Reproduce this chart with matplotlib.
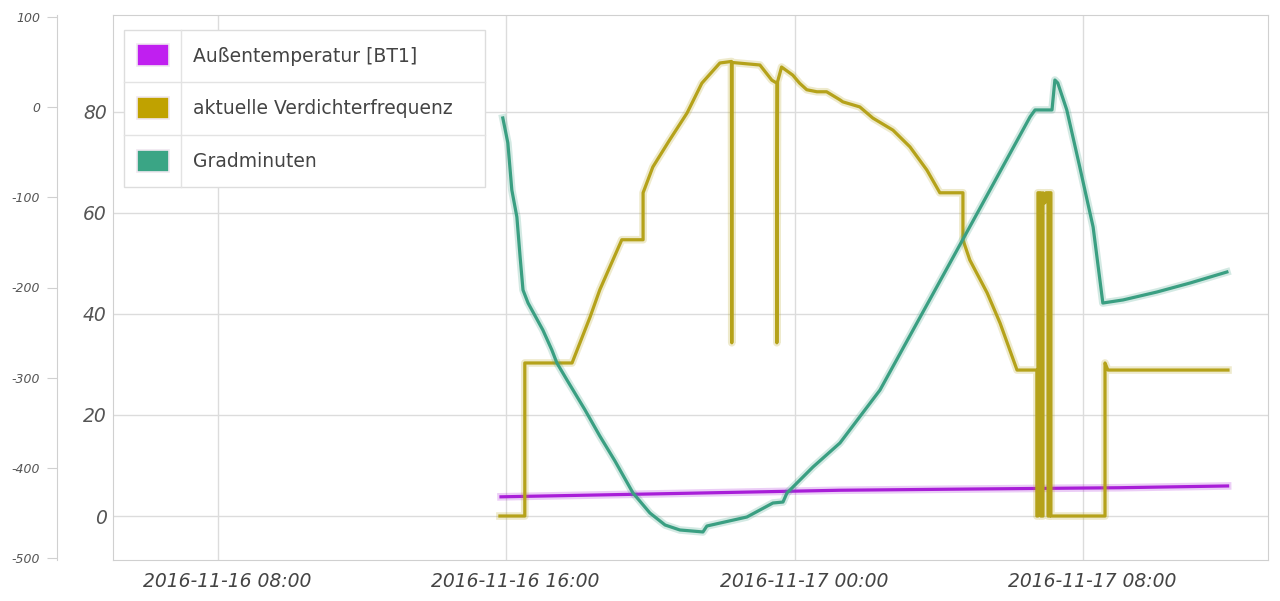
import pandas as pd
import matplotlib
matplotlib.use('Agg')
import matplotlib.pyplot as plt
import matplotlib.dates as mdates
import matplotlib.patheffects as pe
import matplotlib.transforms as mtransforms
from matplotlib.patches import Rectangle

plt.rcParams['font.family'] = ['DejaVu Sans']
plt.rcParams['axes.unicode_minus'] = False

base = pd.Timestamp('2016-11-16 00:00')

# all times in hours since 2016-11-16 00:00
temp_hours = [15.85, 21.0, 25.25, 29.0, 33.0, 36.0]
temp_values = [3.8, 4.5, 5.1, 5.35, 5.6, 5.95]

freq_hours = [15.82, 16.51, 16.51, 17.82, 18.32, 18.59, 19.20, 19.79, 19.79,
              20.06, 20.53, 21.01, 21.42, 21.92, 22.24, 22.25, 22.26, 23.03,
              23.36, 23.50, 23.50, 23.52, 23.63, 23.94, 24.13, 24.33, 24.61,
              24.88, 25.25, 25.33, 25.80, 26.16, 26.72, 27.19, 27.66, 28.02,
              28.66, 28.66, 28.85, 29.33, 29.69, 30.16, 30.71, 30.71, 30.74,
              30.74, 30.82, 30.82, 30.88, 30.88, 30.93, 30.96, 31.02, 31.02,
              31.07, 31.07, 31.10, 31.10, 32.60, 32.60, 32.68, 36.01]
freq_values = [0, 0, 30.3, 30.3, 39.4, 44.8, 54.7, 54.7, 64.0,
               69.1, 74.5, 79.8, 85.7, 89.7, 90.0, 34.3, 89.8, 89.3,
               86.3, 85.7, 34.3, 86.0, 88.9, 87.3, 85.7, 84.4, 84.0,
               84.0, 82.4, 82.0, 81.0, 78.8, 76.4, 73.1, 68.5, 64.0,
               64.0, 54.7, 50.7, 44.2, 38.2, 28.9, 28.9, 0, 0,
               64.0, 64.0, 0, 0, 64.0, 62.0, 64.0, 64.0, 0,
               0, 64.0, 64.0, 0, 0, 30.3, 28.9, 28.9]

grad_hours = [15.90, 16.04, 16.15, 16.29, 16.38, 16.46, 16.60, 17.01, 17.26,
              17.40, 17.68, 18.18, 18.59, 19.01, 19.51, 19.98, 20.40, 20.81,
              21.45, 21.56, 22.67, 23.39, 23.67, 23.78, 24.50, 25.25, 26.36,
              28.30, 30.52, 30.66, 31.13, 31.21, 31.29, 31.54, 31.90, 32.27,
              32.54, 33.10, 34.04, 34.96, 35.98]
grad_values = [-12.0, -39.7, -91.9, -121.8, -166.2, -202.8, -217.2, -247.1, -269.3,
               -283.7, -302.6, -335.8, -364.7, -392.4, -427.9, -450.1, -463.4, -468.9,
               -471.1, -464.5, -454.5, -439.0, -437.9, -427.9, -399.1, -372.4, -313.7,
               -172.8, -10.9, -3.1, -3.1, 30.1, 26.8, -3.1, -66.4, -132.9,
               -217.2, -213.8, -205.0, -195.0, -182.8]

series_names = ['Außentemperatur [BT1]', 'aktuelle Verdichterfrequenz', 'Gradminuten']
line_colors = ['#a81ed8', '#b5a21a', '#3a9f82']
swatch_colors = ['#c01ff0', '#c0a200', '#3aa585']


def to_time(hours):
    return base + pd.to_timedelta(hours, unit='h')


fig = plt.figure(figsize=(12.8, 6.01), dpi=100)
ax = fig.add_axes([113 / 1280, 1 - 560 / 601, 1155 / 1280, 545 / 601])
ax2 = ax.twinx()

glow = lambda c: [pe.Stroke(linewidth=5.5, foreground=c, alpha=0.22), pe.Normal()]

ax.plot(to_time(temp_hours), temp_values, color=line_colors[0], lw=2.3,
        path_effects=glow(line_colors[0]), solid_joinstyle='round')
ax.plot(to_time(freq_hours), freq_values, color=line_colors[1], lw=2.3,
        path_effects=glow(line_colors[1]), solid_joinstyle='round')
ax2.plot(to_time(grad_hours), grad_values, color=line_colors[2], lw=2.3,
         path_effects=glow(line_colors[2]), solid_joinstyle='round')

ax.set_xlim(to_time(5.09), to_time(37.12))
ax.set_ylim(-8.71, 99.2)
ax2.set_ylim(-502.2, 102.2)

ax.set_yticks([0, 20, 40, 60, 80])
ax2.set_yticks([-500, -400, -300, -200, -100, 0, 100])
ax.xaxis.set_major_locator(mdates.HourLocator(byhour=[0, 8, 16]))
ax.xaxis.set_major_formatter(mdates.DateFormatter('%Y-%m-%d %H:%M'))

ax.grid(True, color='#dcdcdc', lw=1)
ax.set_axisbelow(True)
for s in ax.spines.values():
    s.set_color('#d0d0d0')
ax.tick_params(axis='y', length=0, pad=4.5, labelsize=13.5, labelcolor='#555555')
ax.tick_params(axis='x', length=0, pad=8.5, labelsize=13.5, labelcolor='#444444')
shift = mtransforms.ScaledTranslation(9 / 100, 0, fig.dpi_scale_trans)
for lab in ax.get_xticklabels():
    lab.set_fontstyle('italic')
    lab.set_transform(lab.get_transform() + shift)
for lab in ax.get_yticklabels():
    lab.set_fontstyle('italic')

# outer axis for Gradminuten sits on the far left
ax2.yaxis.tick_left()
ax2.spines['left'].set_position(('axes', -56 / 1155))
ax2.spines['left'].set_color('#d0d0d0')
for side in ['right', 'top', 'bottom']:
    ax2.spines[side].set_visible(False)
ax2.tick_params(axis='y', length=7, color='#d0d0d0', pad=5, labelsize=9, labelcolor='#555555')
for lab in ax2.get_yticklabels():
    lab.set_fontstyle('italic')

# table style legend
leg = fig.add_axes([124 / 1280, 1 - 188 / 601, 362 / 1280, 158 / 601])
leg.set_xlim(0, 362)
leg.set_ylim(158, 0)
leg.axis('off')
leg.add_patch(Rectangle((0, 0), 361, 157, facecolor='white', edgecolor='#dddddd', lw=1,
                        clip_on=False))
for yy in [52.5, 105.5]:
    leg.plot([0, 361], [yy, yy], color='#e3e3e3', lw=1, clip_on=False)
leg.plot([57, 57], [0, 157], color='#e3e3e3', lw=1, clip_on=False)
for i, name in enumerate(series_names):
    top = i * 53
    leg.add_patch(Rectangle((13, top + 14), 32, 22, facecolor=swatch_colors[i],
                            edgecolor='#f0e8f0', lw=1.2))
    leg.text(69, top + 26, name, fontsize=13.5, color='#444444', va='center', ha='left')

fig.savefig('out.png', dpi=100, facecolor='white')
